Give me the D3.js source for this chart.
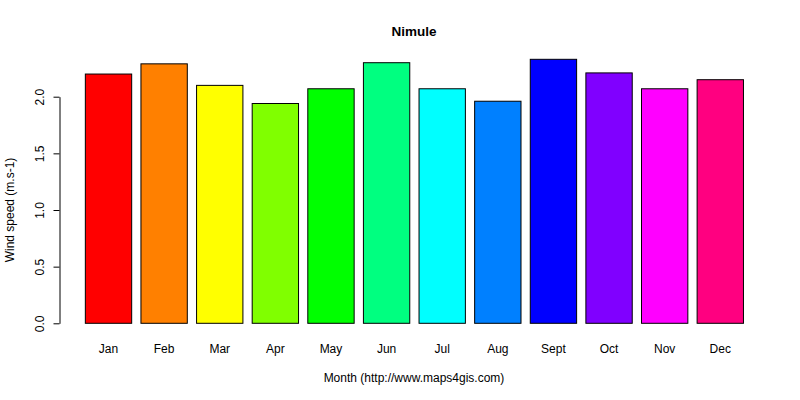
<!DOCTYPE html>
<html>
<head>
<meta charset="utf-8">
<script src="https://cdn.jsdelivr.net/npm/d3@7"></script>
<style>
body { margin: 0; background: #fff; }
svg { display: block; font-family: "Liberation Sans", Arial, sans-serif; }
</style>
</head>
<body>
<svg id="chart" width="800" height="400"></svg>
<script>
const title = "Nimule";
const months = ["Jan","Feb","Mar","Apr","May","Jun","Jul","Aug","Sept","Oct","Nov","Dec"];
const windSpeed = [2.20, 2.29, 2.10, 1.94, 2.07, 2.30, 2.07, 1.96, 2.33, 2.21, 2.07, 2.15];
const barColors = ["#FF0000","#FF8000","#FFFF00","#80FF00","#00FF00","#00FF80","#00FFFF","#0080FF","#0000FF","#8000FF","#FF00FF","#FF0080"];
const yTicks = [0, 0.5, 1.0, 1.5, 2.0];
const xTitle = "Month (http://www.maps4gis.com)";
const yTitle = "Wind speed (m.s-1)";

const svg = d3.select("#chart");
// R barplot user coordinates: width 1, space 0.2
const barW = 1, space = 0.2;
const n = months.length;
const xMax = n * (barW + space) + space; // 14.6
const pad = 0.04 * xMax;
const x = d3.scaleLinear().domain([-pad, xMax + pad]).range([49, 779.8]);
const y = d3.scaleLinear().domain([0, 2]).range([323.3, 96.7]);

const bars = months.map((m, i) => ({
  m, v: windSpeed[i], c: barColors[i],
  x0: space + i * (barW + space), x1: space + i * (barW + space) + barW
}));

svg.append("g").selectAll("rect").data(bars).join("rect")
  .attr("x", d => x(d.x0))
  .attr("y", d => y(d.v))
  .attr("width", d => x(d.x1) - x(d.x0))
  .attr("height", d => y(0) - y(d.v))
  .attr("fill", d => d.c)
  .attr("stroke", "#000")
  .attr("stroke-width", 1);

// month labels
svg.append("g").selectAll("text").data(bars).join("text")
  .attr("x", d => x((d.x0 + d.x1) / 2))
  .attr("y", 353)
  .attr("text-anchor", "middle")
  .attr("font-size", 12)
  .attr("fill", "#000")
  .text(d => d.m);

// y axis
const yAxis = d3.axisLeft(y).tickValues(yTicks).tickFormat(d3.format(".1f")).tickSize(6).tickSizeOuter(0);
const gy = svg.append("g").attr("transform", "translate(59.5,0)").call(yAxis);
gy.select(".domain").attr("stroke", "#000");
gy.selectAll(".tick line").attr("stroke", "#000");
gy.selectAll(".tick text")
  .attr("font-size", 12)
  .attr("font-family", "Liberation Sans, Arial, sans-serif")
  .attr("fill", "#000")
  .attr("text-anchor", "middle")
  .attr("x", 0).attr("dy", 0)
  .attr("transform", "translate(-16,0) rotate(-90)");

// titles
svg.append("text").attr("x", 414).attr("y", 36).attr("text-anchor", "middle")
  .attr("font-size", 13.5).attr("font-weight", "bold").text(title);
svg.append("text").attr("x", 414).attr("y", 382).attr("text-anchor", "middle")
  .attr("font-size", 12).text(xTitle);
svg.append("text").attr("transform", "translate(14,210) rotate(-90)").attr("text-anchor", "middle")
  .attr("font-size", 12).text(yTitle);
</script>
</body>
</html>
